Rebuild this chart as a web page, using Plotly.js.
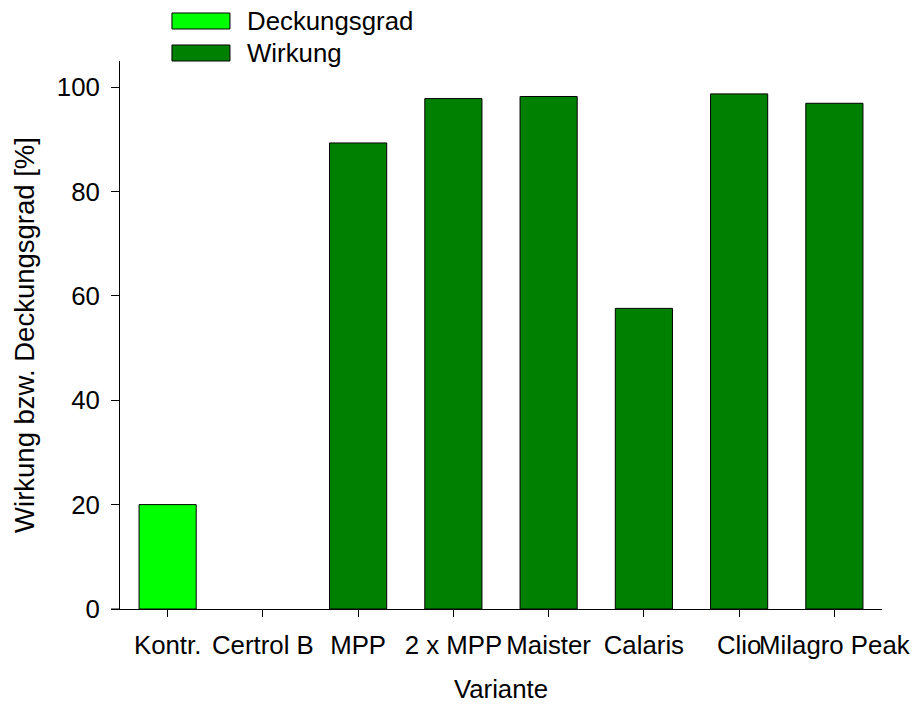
<!DOCTYPE html>
<html>
<head>
<meta charset="utf-8">
<script src="https://cdn.plot.ly/plotly-3.0.1.min.js"></script>
<style>html,body{margin:0;padding:0;background:#fff;}#chart{width:915px;height:707px;}</style>
</head>
<body>
<div id="chart"></div>
<script>
var categories = ["Kontr.", "Certrol B", "MPP", "2 x MPP", "Maister", "Calaris", "Clio", "Milagro Peak"];
var deckungsgrad = [20.0, null, null, null, null, null, null, null];
var wirkung = [null, null, 89.3, 97.8, 98.2, 57.6, 98.7, 96.9];
var yTicks = [0, 20, 40, 60, 80, 100];

var FONT = "Liberation Sans, Arial, Helvetica, sans-serif";
var FS = 25.8;

var traces = [
  {type: "bar", name: "Deckungsgrad", x: categories, y: deckungsgrad, width: 0.6,
   marker: {color: "#00ff00", line: {color: "#000000", width: 1}}, showlegend: false},
  {type: "bar", name: "Wirkung", x: categories, y: wirkung, width: 0.6,
   marker: {color: "#008000", line: {color: "#000000", width: 1}}, showlegend: false}
];

var layout = {
  width: 915, height: 707,
  margin: {l: 120, r: 33, t: 61, b: 98},
  paper_bgcolor: "#ffffff", plot_bgcolor: "#ffffff",
  font: {family: FONT, size: FS, color: "#000000"},
  barmode: "overlay",
  xaxis: {
    type: "category", categoryorder: "array", categoryarray: categories,
    range: [-0.5, 7.5], showgrid: false, zeroline: false,
    showline: true, linecolor: "#000000", linewidth: 1,
    ticks: "outside", ticklen: 7, tickcolor: "#000000", tickwidth: 1,
    tickangle: 0, ticklabelstandoff: 6,
    tickfont: {family: FONT, size: FS, color: "#000000"},
    title: {text: "Variante", font: {family: FONT, size: FS, color: "#000000"}, standoff: 21},
    fixedrange: true
  },
  yaxis: {
    range: [0, 105], tickvals: yTicks, ticktext: yTicks.map(String),
    showgrid: false, zeroline: false,
    showline: true, linecolor: "#000000", linewidth: 1,
    ticks: "outside", ticklen: 8, tickcolor: "#000000", tickwidth: 1,
    ticklabelstandoff: 6,
    tickfont: {family: FONT, size: FS, color: "#000000"},
    title: {text: "Wirkung bzw. Deckungsgrad [%]", font: {family: FONT, size: 27.5, color: "#000000"}, standoff: 14},
    fixedrange: true
  },
  shapes: [
    {type: "line", xref: "paper", yref: "paper", x0: -0.0118, x1: 0, y0: 0, y1: 0,
     line: {color: "#000000", width: 1}},
    {type: "rect", xref: "paper", yref: "paper", x0: 0.0682, x1: 0.1443, y0: 1.0584, y1: 1.0876,
     fillcolor: "#00ff00", line: {color: "#000000", width: 1}},
    {type: "rect", xref: "paper", yref: "paper", x0: 0.0682, x1: 0.1443, y0: 1.0000, y1: 1.0292,
     fillcolor: "#008000", line: {color: "#000000", width: 1}}
  ],
  annotations: [
    {xref: "paper", yref: "paper", x: 0.164, y: 1.073, xanchor: "left", yanchor: "middle",
     text: "Deckungsgrad", showarrow: false, font: {family: FONT, size: FS, color: "#000000"}},
    {xref: "paper", yref: "paper", x: 0.164, y: 1.0146, xanchor: "left", yanchor: "middle",
     text: "Wirkung", showarrow: false, font: {family: FONT, size: FS, color: "#000000"}}
  ]
};

Plotly.newPlot("chart", traces, layout, {displayModeBar: false, staticPlot: true});
</script>
</body>
</html>
